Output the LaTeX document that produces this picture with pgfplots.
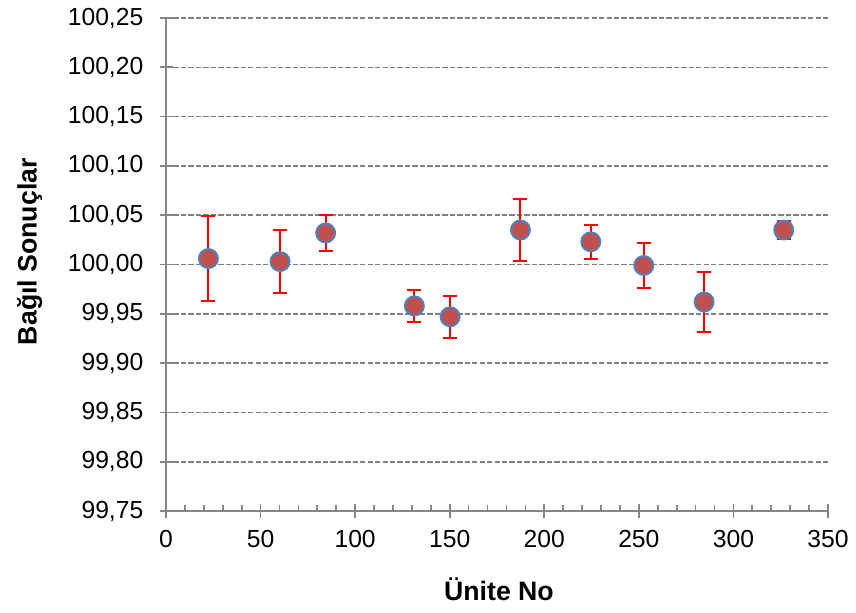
\documentclass[border=0pt]{standalone}
\usepackage{fontspec}
\setmainfont{Liberation Sans}
\usepackage{pgfplots}
\usepackage{pgfplotstable}
\pgfplotsset{compat=1.18}
\definecolor{axisgray}{HTML}{868686}
\definecolor{gridgray}{HTML}{7F7F7F}
\definecolor{mfill}{HTML}{C0504D}
\definecolor{medge}{HTML}{4F81BD}
\pgfplotstableread{
x y e
22.4 100.006 0.043
60.3 100.003 0.032
84.4 100.032 0.018
131.3 99.958 0.016
150.2 99.947 0.0215
187.4 100.035 0.031
224.6 100.023 0.017
252.6 99.999 0.023
284.5 99.962 0.030
326.6 100.035 0.009
}\datatable
\begin{document}
\begin{tikzpicture}
\path (0,0) rectangle (642pt,459pt);
\begin{axis}[
  at={(124.5pt,75.75pt)}, anchor=south west,
  scale only axis, width=496.5pt, height=369.75pt,
  xmin=0, xmax=350, ymin=99.75, ymax=100.25,
  axis x line*=bottom, axis y line*=left,
  axis line style={-, draw=axisgray, line width=1.3pt},
  xtick={0,50,100,150,200,250,300,350},
  minor x tick num=4,
  ytick={99.75,99.80,99.85,99.90,99.95,100.00,100.05,100.10,100.15,100.20,100.25},
  tick align=inside,
  major tick length=5.25pt, minor tick length=4.5pt,
  tick style={draw=axisgray, line width=1.3pt},
  extra x ticks={0,50,100,150,200,250,300,350},
  extra x tick labels={},
  extra x tick style={tick align=outside, grid=none},
  extra y ticks={99.75,99.80,99.85,99.90,99.95,100.00,100.05,100.10,100.15,100.20,100.25},
  extra y tick labels={},
  extra y tick style={tick align=outside, grid=none, major tick length=4.5pt},
  ymajorgrids,
  major grid style={draw=gridgray, line width=1.2pt, dash pattern=on 4pt off 1.6pt},
  /pgf/number format/assume math mode=true,
  yticklabel style={xshift=-13.5pt, /pgf/number format/.cd, use comma, fixed, fixed zerofill, precision=2},
  xticklabel style={yshift=-11pt, /pgf/number format/fixed},
  tick label style={font=\fontsize{18.5}{20}\selectfont, text=black},
  xlabel={Ünite No}, ylabel={Bağıl Sonuçlar},
  every axis x label/.style={at={(axis description cs:0.503,-0.182)}, anchor=base, font=\fontsize{20}{22}\selectfont\bfseries},
  every axis y label/.style={at={(axis description cs:-0.1956,0.526)}, rotate=90, anchor=base, font=\fontsize{20}{22}\selectfont\bfseries},
  clip=false,
]
\addplot[draw=none, mark=none,
  error bars/.cd, y dir=both, y explicit,
  error bar style={draw=red, line width=1.5pt, solid},
  error mark options={rotate=90, draw=red, mark size=5.25pt, line width=1.5pt}]
  table[x=x, y=y, y error=e] {\datatable};
\addplot[only marks, mark=*, mark size=7.1pt,
  mark options={fill=mfill, draw=medge, line width=1.5pt}]
  table[x=x, y=y] {\datatable};
\end{axis}
\end{tikzpicture}
\end{document}
